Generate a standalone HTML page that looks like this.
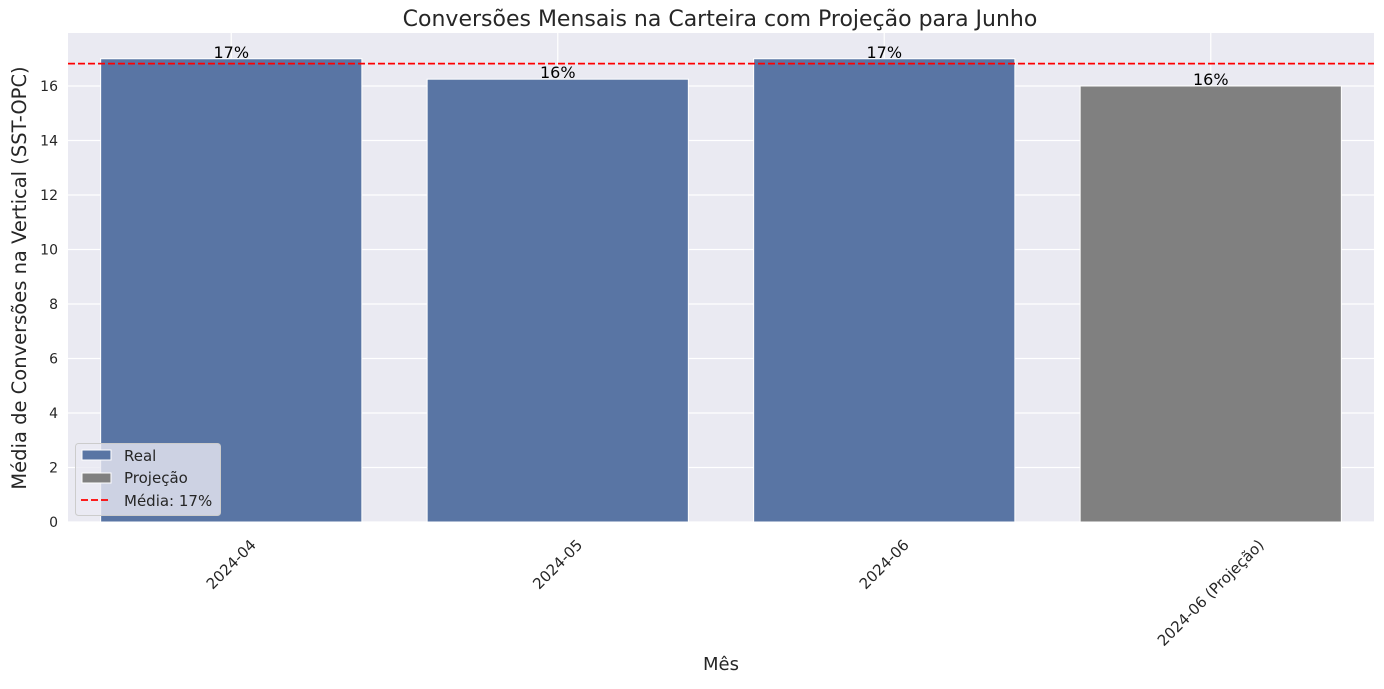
<!DOCTYPE html>
<html><head><meta charset="utf-8"><style>
html,body{margin:0;padding:0;background:#fff;}
svg text{font-family:"DejaVu Sans","Liberation Sans",sans-serif;}
</style></head><body>
<svg id="chart" width="1384" height="684" xmlns="http://www.w3.org/2000/svg"></svg>
<script>
const categories = ["2024-04","2024-05","2024-06","2024-06 (Projeção)"];
const values = [17, 16.25, 17, 16];
const labels = ["17%","16%","17%","16%"];
const isProjection = [false,false,false,true];
const yTicks = [0,2,4,6,8,10,12,14,16];
const meanValue = 16.82;

const NS="http://www.w3.org/2000/svg";
const svg=document.getElementById('chart');
const L=68,R=1374,T=33,B=522,YMAX=17.945;
const y=v=>B-(v/YMAX)*(B-T);
const band=(R-L)/categories.length;
const xc=i=>L+band*(i+0.5);
function mk(tag,attrs,parent){const e=document.createElementNS(NS,tag);for(const k in attrs)e.setAttribute(k,attrs[k]);(parent||svg).appendChild(e);return e;}

const bg=mk('rect',{x:L,y:T,width:R-L,height:B-T,fill:'#eaeaf2'});



yTicks.forEach(t=>{
  const g=mk('line',{x1:L,x2:R,y1:y(t),y2:y(t),stroke:'#fff','stroke-width':1.2});
  
  
  const tx=mk('text',{x:L-10,y:y(t)+5,'text-anchor':'end','font-size':14,fill:'#262626'});
  tx.textContent=t;
  
  
});
categories.forEach((c,i)=>{
  const gl=mk('line',{x1:xc(i),x2:xc(i),y1:T,y2:B,stroke:'#fff','stroke-width':1.2});
  
  
});
categories.forEach((c,i)=>{
  const w=band*0.8;
  const r=mk('rect',{x:xc(i)-w/2,y:y(values[i]),width:w,height:B-y(values[i]),fill:isProjection[i]?'#808080':'#5975a4',stroke:'#fff','stroke-width':1});
  
  
  const lb=mk('text',{x:xc(i),y:y(values[i])-1,'text-anchor':'middle','font-size':16,fill:'#000'});
  lb.textContent=labels[i];
  
  
  const xt=mk('text',{x:0,y:0,'text-anchor':'middle','font-size':15,fill:'#262626'});
  xt.textContent=c;
  const len=xt.getComputedTextLength();
  const h=(len+15)*0.7071;
  const cx=xc(i), cy=537+h/2;
  xt.setAttribute('x',cx);
  xt.setAttribute('y',cy+5);
  xt.setAttribute('transform',`rotate(-45 ${cx} ${cy})`);
  
  
});
const ml=mk('line',{x1:L,x2:R,y1:y(meanValue),y2:y(meanValue),stroke:'#ff0000','stroke-width':1.8,'stroke-dasharray':'7,3'});



const title=mk('text',{x:720,y:26,'text-anchor':'middle','font-size':22,fill:'#262626'});
title.textContent='Conversões Mensais na Carteira com Projeção para Junho';


const xl=mk('text',{x:721,y:670,'text-anchor':'middle','font-size':18,fill:'#262626'});
xl.textContent='Mês';


const yl=mk('text',{x:26,y:278,'text-anchor':'middle','font-size':19.5,fill:'#262626',transform:'rotate(-90 26 278)'});
yl.textContent='Média de Conversões na Vertical (SST-OPC)';



const lg=mk('g',{});


mk('rect',{x:75.5,y:443.5,width:145,height:72,rx:3,fill:'#eaeaf2','fill-opacity':0.8,stroke:'#ccc'},lg);
const e1=mk('rect',{x:82,y:450,width:29,height:10,fill:'#5975a4',stroke:'#fff'},lg);


const e2=mk('rect',{x:82,y:473,width:29,height:10,fill:'#808080',stroke:'#fff'},lg);


const e3=mk('line',{x1:81,x2:111,y1:500,y2:500,stroke:'#ff0000','stroke-width':1.8,'stroke-dasharray':'7,3'},lg);


[['Real',461],['Projeção',483],['Média: 17%',506]].forEach(([t,yy])=>{
  const tx=mk('text',{x:124,y:yy,'font-size':15,fill:'#262626'},lg);
  tx.textContent=t;
  
  
});
</script>
</body></html>
